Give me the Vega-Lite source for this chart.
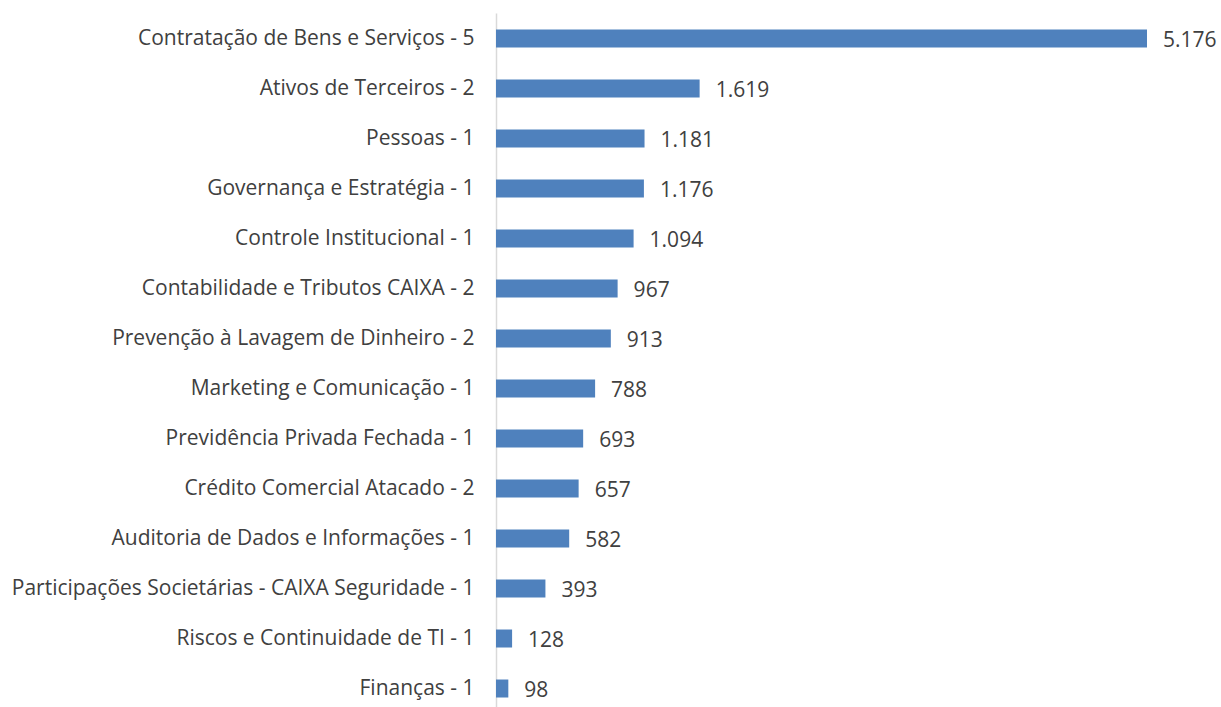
{
  "$schema": "https://vega.github.io/schema/vega-lite/v6.json",
  "width": 651,
  "height": 694,
  "autosize": {"type": "none"},
  "padding": {"left": 496, "top": 13, "right": 74, "bottom": 0},
  "background": "white",
  "config": {
    "view": {"stroke": null},
    "locale": {"number": {"decimal": ",", "thousands": ".", "grouping": [3], "currency": ["R$", ""]}},
    "font": "Open Sans"
  },
  "data": {
    "values": [
      {"area": "Contratação de Bens e Serviços - 5", "valor": 5176},
      {"area": "Ativos de Terceiros - 2", "valor": 1619},
      {"area": "Pessoas - 1", "valor": 1181},
      {"area": "Governança e Estratégia - 1", "valor": 1176},
      {"area": "Controle Institucional - 1", "valor": 1094},
      {"area": "Contabilidade e Tributos CAIXA - 2", "valor": 967},
      {"area": "Prevenção à Lavagem de Dinheiro - 2", "valor": 913},
      {"area": "Marketing e Comunicação - 1", "valor": 788},
      {"area": "Previdência Privada Fechada - 1", "valor": 693},
      {"area": "Crédito Comercial Atacado - 2", "valor": 657},
      {"area": "Auditoria de Dados e Informações - 1", "valor": 582},
      {"area": "Participações Societárias - CAIXA Seguridade - 1", "valor": 393},
      {"area": "Riscos e Continuidade de TI - 1", "valor": 128},
      {"area": "Finanças - 1", "valor": 98}
    ]
  },
  "encoding": {
    "y": {
      "field": "area",
      "type": "nominal",
      "sort": null,
      "scale": {"paddingInner": 0.64, "paddingOuter": 0.26, "align": 0.635},
      "axis": {
        "title": null,
        "ticks": false,
        "labelFont": "Open Sans",
        "labelFontSize": 21,
        "labelColor": "#404040",
        "labelPadding": 22,
        "labelLimit": 600,
        "domainColor": "#d9d9d9",
        "domainWidth": 1.5
      }
    },
    "x": {
      "field": "valor",
      "type": "quantitative",
      "scale": {"domain": [0, 5176], "nice": false, "zero": true},
      "axis": null
    }
  },
  "layer": [
    {"mark": {"type": "bar", "color": "#4f81bd"}},
    {
      "mark": {"type": "text", "align": "left", "baseline": "middle", "dx": 16, "dy": 2, "font": "Open Sans", "fontSize": 21, "color": "#404040"},
      "encoding": {"text": {"field": "valor", "type": "quantitative", "format": ",d"}}
    }
  ]
}
